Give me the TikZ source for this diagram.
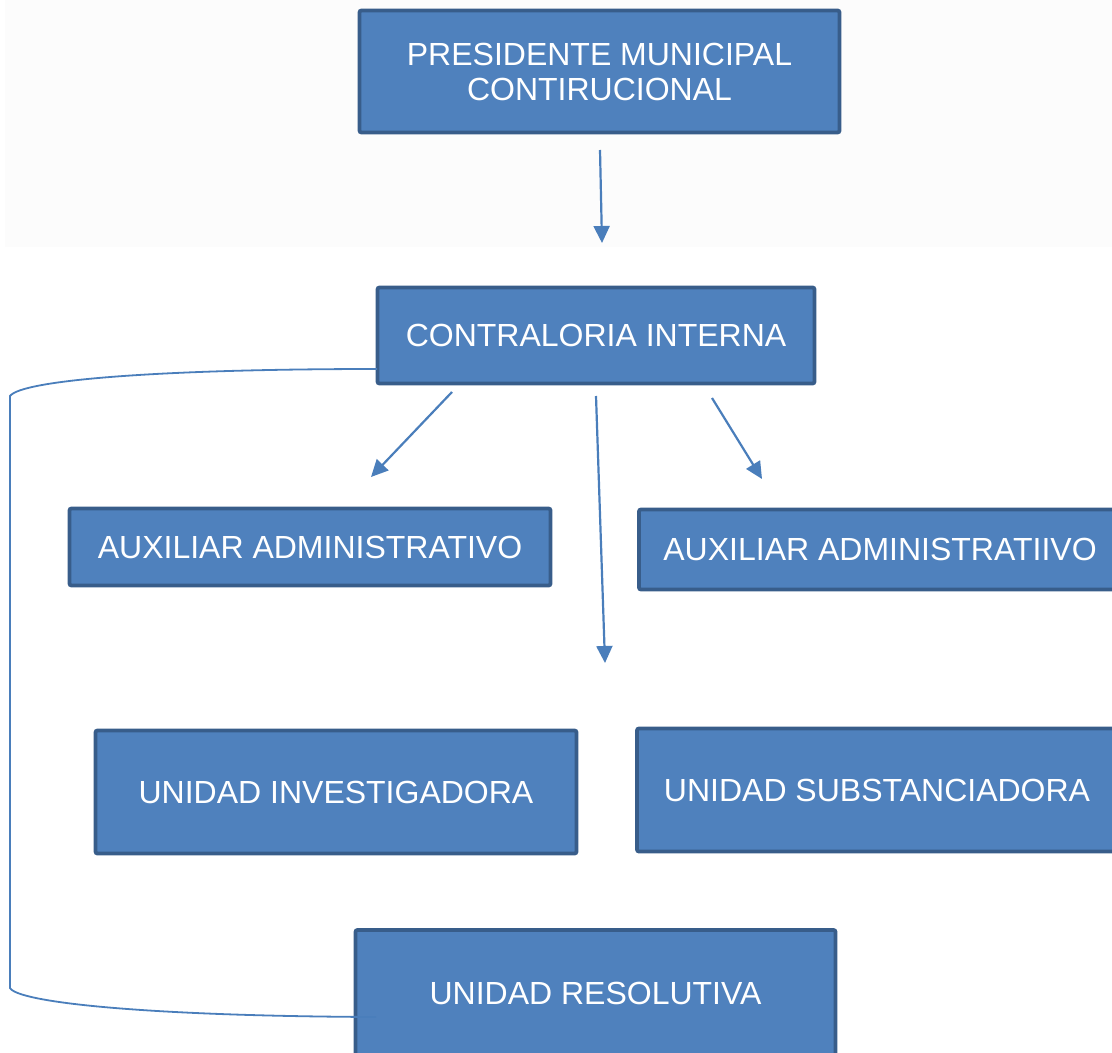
\documentclass[tikz,border=0pt]{standalone}
\usepackage{fontspec}
\setmainfont{Liberation Sans}
\usepackage{xcolor}
\usetikzlibrary{arrows.meta, positioning, calc}
\definecolor{boxfill}{HTML}{4F81BD}
\definecolor{boxline}{HTML}{385D8A}
\definecolor{linkblue}{HTML}{4A7EBB}

\begin{document}
\begin{tikzpicture}[x=0.5pt, y=-0.5pt,
    unit/.style={rectangle, draw=boxline, fill=boxfill, line width=1.9pt, rounded corners=1pt,
        text=white, align=center, inner sep=0pt, font=\fontsize{16}{17.5}\selectfont},
    link/.style={draw=linkblue, line width=1.1pt, -{Triangle[length=8.5pt, width=8pt]}},
    bracket/.style={draw=linkblue, line width=0.9pt}]
    \useasboundingbox (0,0) rectangle (1112,1053);
    \clip (0,0) rectangle (1112,1053);
    \fill[black!1] (5,0) rectangle (1112,247);

    \node[unit, minimum width=240pt, minimum height=61pt] (pres) at (599.5,71.5)
        {PRESIDENTE MUNICIPAL\\CONTIRUCIONAL};
    \node[unit, minimum width=218.5pt, minimum height=48pt] (contr) at (596,335.5)
        {CONTRALORIA INTERNA};
    \node[unit, minimum width=240.5pt, minimum height=38.5pt] (auxl) at (310,547)
        {AUXILIAR ADMINISTRATIVO};
    \node[unit, minimum width=241pt, minimum height=40pt] (auxr) at (880,549.5)
        {AUXILIAR ADMINISTRATIIVO};
    \node[unit, minimum width=240.5pt, minimum height=61.5pt] (inv) at (336,792)
        {UNIDAD INVESTIGADORA};
    \node[unit, minimum width=240pt, minimum height=61.5pt] (subs) at (877,790)
        {UNIDAD SUBSTANCIADORA};
    \node[unit, minimum width=240pt, minimum height=63pt] (res) at (595.5,993)
        {UNIDAD RESOLUTIVA};

    \coordinate (p1) at (600,150);
    \coordinate (p2) at (602,243);
    \coordinate (c1) at (452,392);
    \coordinate (l1) at (371,477);
    \coordinate (c2) at (596,396);
    \coordinate (m1) at (605,663);
    \coordinate (c3) at (712,398);
    \coordinate (r1) at (762,479);
    \coordinate (cin) at (377,369);
    \coordinate (rin) at (376,1017);

    \draw[link] (p1) -- (p2);
    \draw[link] (c1) -- (l1);
    \draw[link] (c2) -- (m1);
    \draw[link] (c3) -- (r1);
    \draw[bracket] (cin) .. controls (160,369) and (22,380) .. (10,396)
        -- (10,988) .. controls (18,1002) and (140,1016) .. (rin);
\end{tikzpicture}
\end{document}
